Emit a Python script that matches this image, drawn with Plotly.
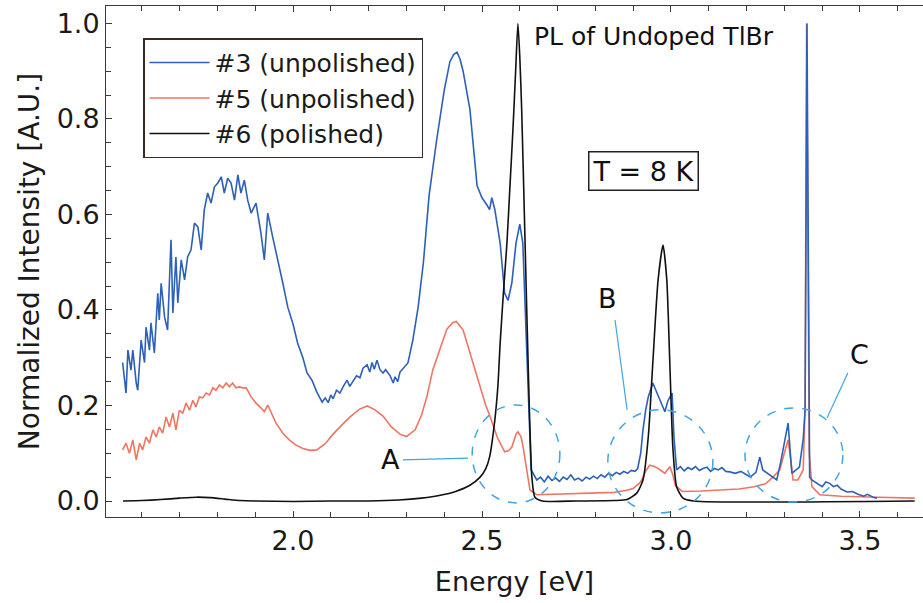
import plotly.graph_objects as go

# ---------------- data ----------------
blue_x = [1.549, 1.558, 1.563, 1.571, 1.576, 1.585, 1.589, 1.598, 1.607, 1.611, 1.620, 1.624, 1.633,
          1.642, 1.646, 1.651, 1.660, 1.668, 1.677, 1.682, 1.690, 1.695, 1.704, 1.713, 1.721, 1.730,
          1.739, 1.748, 1.757, 1.765, 1.774, 1.783, 1.792, 1.801, 1.810, 1.818, 1.827, 1.836, 1.845,
          1.854, 1.862, 1.871, 1.880, 1.889, 1.902, 1.915, 1.924, 1.933, 1.946, 1.960, 1.973, 1.986,
          2.000, 2.012, 2.026, 2.037, 2.050, 2.063, 2.077, 2.085, 2.093, 2.100, 2.106, 2.115, 2.124,
          2.133, 2.143, 2.150, 2.159, 2.168, 2.177, 2.185, 2.196, 2.203, 2.209, 2.215, 2.222, 2.230,
          2.238, 2.245, 2.257, 2.265, 2.270, 2.277, 2.283, 2.295, 2.304, 2.317, 2.331, 2.345, 2.360,
          2.380, 2.400, 2.415, 2.425, 2.434, 2.442, 2.450, 2.468, 2.487, 2.500, 2.513, 2.520, 2.526,
          2.534, 2.548, 2.560, 2.569, 2.579, 2.590, 2.600, 2.608, 2.614, 2.623, 2.630, 2.645, 2.655,
          2.665, 2.675, 2.685, 2.695, 2.705, 2.715, 2.725, 2.735, 2.745, 2.755, 2.765, 2.775, 2.785,
          2.795, 2.805, 2.815, 2.825, 2.835, 2.845, 2.855, 2.865, 2.875, 2.885, 2.895, 2.905, 2.912,
          2.920, 2.926, 2.933, 2.940, 2.952, 2.960, 2.970, 2.978, 2.984, 2.992, 3.003, 3.008, 3.015,
          3.025, 3.035, 3.045, 3.055, 3.065, 3.075, 3.085, 3.095, 3.105, 3.115, 3.125, 3.135, 3.145,
          3.156, 3.170, 3.185, 3.200, 3.210, 3.225, 3.235, 3.243, 3.255, 3.268, 3.280, 3.290, 3.300,
          3.310, 3.320, 3.330, 3.340, 3.350, 3.355, 3.360, 3.367, 3.373, 3.380, 3.390, 3.400, 3.410,
          3.420, 3.430, 3.440, 3.450, 3.466, 3.480, 3.495, 3.510, 3.520, 3.535, 3.545]
blue_y = [0.290, 0.226, 0.316, 0.274, 0.316, 0.247, 0.232, 0.337, 0.290, 0.364, 0.316, 0.373, 0.310,
          0.435, 0.379, 0.456, 0.385, 0.358, 0.547, 0.394, 0.511, 0.415, 0.505, 0.463, 0.511, 0.526,
          0.582, 0.574, 0.526, 0.609, 0.645, 0.624, 0.658, 0.666, 0.679, 0.645, 0.676, 0.666, 0.630,
          0.683, 0.645, 0.672, 0.630, 0.603, 0.624, 0.561, 0.505, 0.603, 0.553, 0.505, 0.456, 0.406,
          0.370, 0.331, 0.300, 0.268, 0.253, 0.228, 0.207, 0.216, 0.206, 0.222, 0.214, 0.232, 0.226,
          0.240, 0.253, 0.240, 0.250, 0.262, 0.258, 0.278, 0.285, 0.270, 0.290, 0.276, 0.295, 0.275,
          0.268, 0.275, 0.262, 0.247, 0.260, 0.250, 0.270, 0.280, 0.289, 0.337, 0.406, 0.500, 0.640,
          0.756, 0.860, 0.920, 0.935, 0.940, 0.925, 0.900, 0.820, 0.660, 0.635, 0.620, 0.610, 0.635,
          0.610, 0.540, 0.435, 0.420, 0.457, 0.540, 0.580, 0.540, 0.400, 0.190, 0.065, 0.044, 0.050,
          0.040, 0.052, 0.043, 0.048, 0.041, 0.050, 0.045, 0.055, 0.044, 0.048, 0.042, 0.050, 0.046,
          0.052, 0.047, 0.055, 0.050, 0.058, 0.053, 0.060, 0.056, 0.062, 0.058, 0.064, 0.062, 0.068,
          0.100, 0.149, 0.190, 0.218, 0.247, 0.232, 0.210, 0.195, 0.187, 0.210, 0.226, 0.134, 0.065,
          0.072, 0.063, 0.070, 0.066, 0.072, 0.064, 0.068, 0.071, 0.062, 0.068, 0.065, 0.070, 0.062,
          0.061, 0.058, 0.062, 0.055, 0.050, 0.060, 0.092, 0.065, 0.058, 0.050, 0.044, 0.080, 0.120,
          0.163, 0.058, 0.065, 0.071, 0.130, 0.190, 1.000, 0.050, 0.044, 0.040, 0.035, 0.030, 0.040,
          0.037, 0.030, 0.033, 0.025, 0.019, 0.020, 0.014, 0.010, 0.014, 0.008, 0.006]

red_x = [1.549, 1.558, 1.567, 1.576, 1.585, 1.594, 1.602, 1.611, 1.620, 1.629, 1.638, 1.646, 1.655,
         1.664, 1.673, 1.682, 1.690, 1.699, 1.708, 1.717, 1.726, 1.735, 1.743, 1.752, 1.761, 1.770,
         1.779, 1.788, 1.796, 1.805, 1.814, 1.823, 1.832, 1.840, 1.849, 1.858, 1.867, 1.876, 1.889,
         1.902, 1.915, 1.924, 1.933, 1.942, 1.955, 1.973, 1.990, 2.008, 2.026, 2.045, 2.063, 2.085,
         2.106, 2.130, 2.151, 2.175, 2.196, 2.215, 2.238, 2.260, 2.283, 2.300, 2.323, 2.340, 2.354,
         2.370, 2.389, 2.407, 2.423, 2.432, 2.450, 2.476, 2.495, 2.510, 2.520, 2.540, 2.560, 2.570,
         2.579, 2.590, 2.595, 2.603, 2.608, 2.619, 2.627, 2.645, 2.700, 2.750, 2.800, 2.850, 2.880,
         2.900, 2.920, 2.935, 2.944, 2.958, 2.970, 2.984, 2.997, 3.005, 3.012, 3.030, 3.080, 3.130,
         3.180, 3.220, 3.250, 3.270, 3.288, 3.300, 3.310, 3.318, 3.323, 3.336, 3.350, 3.355, 3.359,
         3.366, 3.373, 3.394, 3.450, 3.550, 3.645]
red_y = [0.107, 0.121, 0.100, 0.128, 0.086, 0.121, 0.107, 0.134, 0.121, 0.149, 0.134, 0.155, 0.142,
         0.176, 0.155, 0.184, 0.149, 0.190, 0.184, 0.205, 0.190, 0.211, 0.197, 0.218, 0.216, 0.226,
         0.222, 0.237, 0.232, 0.243, 0.237, 0.247, 0.239, 0.247, 0.237, 0.239, 0.237, 0.237, 0.218,
         0.205, 0.195, 0.187, 0.201, 0.184, 0.163, 0.142, 0.128, 0.117, 0.110, 0.106, 0.107, 0.120,
         0.140, 0.160, 0.176, 0.192, 0.199, 0.192, 0.178, 0.155, 0.140, 0.135, 0.149, 0.180, 0.218,
         0.275, 0.320, 0.360, 0.374, 0.376, 0.358, 0.289, 0.240, 0.200, 0.180, 0.134, 0.103, 0.105,
         0.113, 0.140, 0.145, 0.135, 0.117, 0.059, 0.023, 0.013, 0.014, 0.015, 0.016, 0.018, 0.022,
         0.026, 0.040, 0.065, 0.075, 0.072, 0.066, 0.058, 0.072, 0.055, 0.032, 0.020, 0.021, 0.023,
         0.025, 0.030, 0.036, 0.050, 0.065, 0.100, 0.128, 0.080, 0.044, 0.044, 0.065, 0.200, 1.000,
         0.100, 0.030, 0.013, 0.010, 0.008, 0.006]

black_x = [1.550, 1.600, 1.650, 1.700, 1.745, 1.780, 1.820, 1.860, 1.900, 2.000, 2.100, 2.200, 2.280,
           2.340, 2.390, 2.430, 2.468, 2.495, 2.510, 2.520, 2.534, 2.542, 2.548, 2.557, 2.566, 2.574,
           2.582, 2.589, 2.595, 2.600, 2.605, 2.614, 2.623, 2.632, 2.640, 2.660, 2.750, 2.850, 2.884,
           2.910, 2.926, 2.940, 2.952, 2.966, 2.979, 2.989, 2.997, 3.005, 3.015, 3.032, 3.060, 3.645]
black_y = [0.000, 0.001, 0.003, 0.006, 0.008, 0.007, 0.004, 0.001, 0.000, -0.001, 0.000, 0.000, 0.002,
           0.006, 0.012, 0.020, 0.033, 0.050, 0.068, 0.092, 0.170, 0.240, 0.330, 0.440, 0.540, 0.660,
           0.780, 0.900, 1.000, 0.930, 0.820, 0.540, 0.260, 0.050, 0.008, 0.000, 0.000, 0.001, 0.003,
           0.017, 0.044, 0.134, 0.289, 0.463, 0.536, 0.463, 0.289, 0.113, 0.030, 0.006, 0.000, 0.000]

series_names = ["#3 (unpolished)", "#5 (unpolished)", "#6 (polished)"]

# ---------------- figure ----------------
FONT = "DejaVu Sans"
AX = "#3a3a3a"
BLUE = "#2d60b8"
RED = "#ef7563"
CIRC = "#3fa6e4"

fig = go.Figure()
fig.add_trace(go.Scatter(x=red_x, y=red_y, mode="lines", name=series_names[1], legendrank=2,
                         line=dict(color=RED, width=1.6)))
fig.add_trace(go.Scatter(x=blue_x, y=blue_y, mode="lines", name=series_names[0], legendrank=1,
                         line=dict(color=BLUE, width=1.6)))
fig.add_trace(go.Scatter(x=black_x, y=black_y, mode="lines", name=series_names[2], legendrank=3,
                         line=dict(color="#111111", width=1.6, shape="spline", smoothing=0.6)))

# dashed circles
for (x0, x1, y0, y1) in [(2.474, 2.706, -0.004, 0.201), (2.833, 3.111, -0.025, 0.191),
                         (3.196, 3.455, -0.002, 0.195)]:
    fig.add_shape(type="circle", xref="x", yref="y", x0=x0, x1=x1, y0=y0, y1=y1,
                  line=dict(color=CIRC, width=1.5, dash="dash"))
# leader lines
for (x0, y0, x1, y1) in [(2.291, 0.086, 2.463, 0.090), (2.852, 0.379, 2.884, 0.191),
                         (3.468, 0.268, 3.413, 0.174)]:
    fig.add_shape(type="line", xref="x", yref="y", x0=x0, y0=y0, x1=x1, y1=y1,
                  line=dict(color=CIRC, width=1.2))

for (txt, x, y) in [("A", 2.257, 0.086), ("B", 2.831, 0.425), ("C", 3.500, 0.306)]:
    fig.add_annotation(text=txt, x=x, y=y, xref="x", yref="y", showarrow=False,
                       font=dict(size=27, family=FONT, color="#111"))

fig.add_annotation(text="PL of Undoped TlBr", x=2.632, y=0.972, xref="x", yref="y",
                   xanchor="left", yanchor="middle", showarrow=False,
                   font=dict(size=25, family=FONT, color="#111"))
fig.add_annotation(text="T = 8 K", x=0.6585, y=0.678, xref="paper", yref="paper",
                   xanchor="center", yanchor="middle",
                   showarrow=False, bordercolor="#222", borderwidth=1.5, borderpad=3,
                   bgcolor="white", font=dict(size=27, family=FONT, color="#111"))

fig.update_layout(
    width=923, height=603,
    margin=dict(l=106, r=0, t=6, b=86),
    paper_bgcolor="white", plot_bgcolor="white",
    font=dict(family=FONT, size=27, color="#1a1a1a"),
    legend=dict(x=0.0453, y=0.937, xanchor="left", yanchor="top",
                bordercolor="#3a2a22", borderwidth=1.5, bgcolor="white",
                font=dict(size=25, family=FONT, color="#1a1a1a"), itemwidth=60,
                traceorder="normal"),
    showlegend=True,
)
fig.update_xaxes(range=[1.505, 3.667], tick0=0, dtick=0.5, tickformat=".1f",
                 ticks="inside", ticklen=6, tickcolor=AX, showline=True, linecolor=AX,
                 linewidth=1, mirror="allticks", showgrid=False, zeroline=False,
                 minor=dict(dtick=0.1, ticks="inside", ticklen=5, tickcolor=AX),
                 title=dict(text="Energy [eV]", font=dict(size=27, family=FONT), standoff=16),
                 tickfont=dict(size=27, family=FONT))
fig.update_yaxes(range=[-0.0335, 1.0366], tick0=0, dtick=0.2, tickformat=".1f",
                 ticks="inside", ticklen=6, tickcolor=AX, showline=True, linecolor=AX,
                 linewidth=1, mirror=False, showgrid=False, zeroline=False,
                 minor=dict(dtick=0.05, ticks="inside", ticklen=5, tickcolor=AX),
                 title=dict(text="Normalized Intensity [A.U.]", font=dict(size=28, family=FONT),
                            standoff=8),
                 tickfont=dict(size=27, family=FONT))

fig.write_html("out.html")
